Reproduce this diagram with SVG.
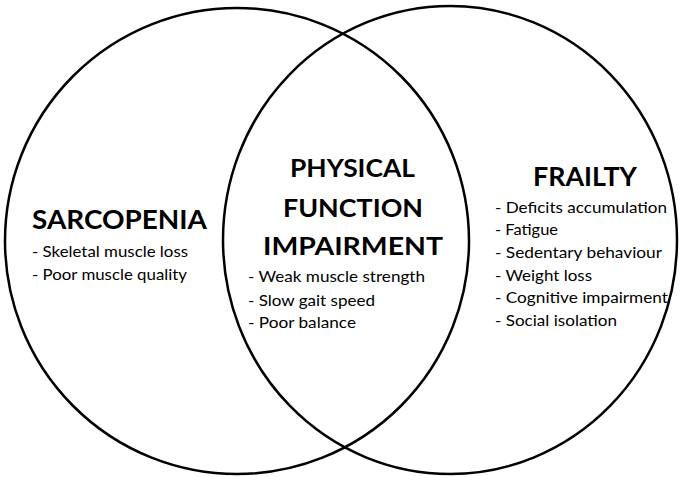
<svg xmlns="http://www.w3.org/2000/svg" width="681" height="477" viewBox="0 0 681 477">
<style>
.c{fill:none;stroke:#000;stroke-width:2.5}
.t{font-family:Lato,"Open Sans","Liberation Sans",sans-serif;font-weight:bold;fill:#000}
.i{font-family:Lato,"Open Sans","Liberation Sans",sans-serif;font-size:16px;fill:#000}
</style>
<rect width="681" height="477" fill="#fff"/>
<g id="connectors"></g>
<g id="sarcopenia">
<ellipse class="c" cx="237" cy="241" rx="232" ry="233"/>
<text class="t" x="32" y="229" font-size="27" textLength="175" lengthAdjust="spacingAndGlyphs">SARCOPENIA</text>
<text class="i" x="32" y="257" textLength="156" lengthAdjust="spacingAndGlyphs">- Skeletal muscle loss</text>
<text class="i" x="32" y="280" textLength="155" lengthAdjust="spacingAndGlyphs">- Poor muscle quality</text>
</g>
<g id="frailty">
<ellipse class="c" cx="450" cy="240" rx="227" ry="234"/>
<text class="t" x="533" y="186" font-size="26" textLength="104" lengthAdjust="spacingAndGlyphs">FRAILTY</text>
<text class="i" x="495" y="213" textLength="172" lengthAdjust="spacingAndGlyphs">- Deficits accumulation</text>
<text class="i" x="495" y="235" textLength="63" lengthAdjust="spacingAndGlyphs">- Fatigue</text>
<text class="i" x="495" y="258" textLength="167" lengthAdjust="spacingAndGlyphs">- Sedentary behaviour</text>
<text class="i" x="495" y="281" textLength="97" lengthAdjust="spacingAndGlyphs">- Weight loss</text>
<text class="i" x="495" y="303" textLength="173" lengthAdjust="spacingAndGlyphs">- Cognitive impairment</text>
<text class="i" x="495" y="326" textLength="122" lengthAdjust="spacingAndGlyphs">- Social isolation</text>
</g>
<g id="physical-function-impairment">
<text class="t" x="290" y="177" font-size="25" textLength="125" lengthAdjust="spacingAndGlyphs">PHYSICAL</text>
<text class="t" x="283" y="217" font-size="25" textLength="140" lengthAdjust="spacingAndGlyphs">FUNCTION</text>
<text class="t" x="263" y="255" font-size="25" textLength="180" lengthAdjust="spacingAndGlyphs">IMPAIRMENT</text>
<text class="i" x="248" y="282" textLength="177" lengthAdjust="spacingAndGlyphs">- Weak muscle strength</text>
<text class="i" x="248" y="306" textLength="127" lengthAdjust="spacingAndGlyphs">- Slow gait speed</text>
<text class="i" x="248" y="328" textLength="108" lengthAdjust="spacingAndGlyphs">- Poor balance</text>
</g>
</svg>
